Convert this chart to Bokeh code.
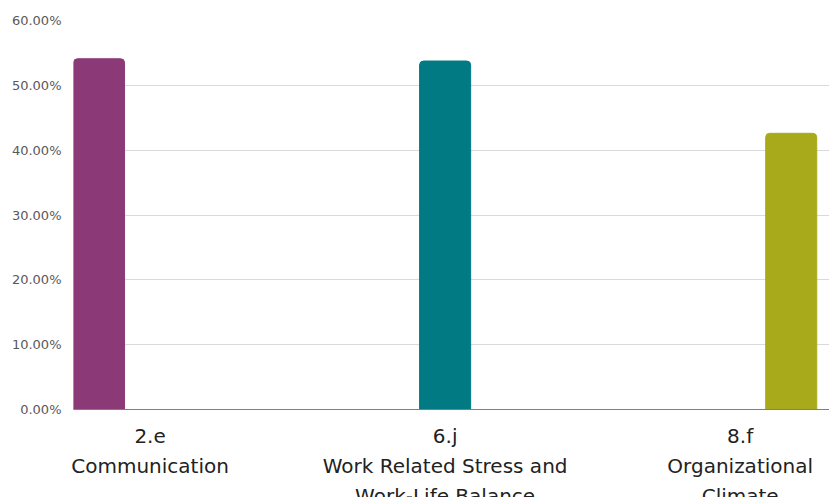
from bokeh.plotting import figure
from bokeh.models import ColumnDataSource, FixedTicker, NumeralTickFormatter, Range1d
from bokeh.embed import file_html
from bokeh.resources import INLINE

# Survey items and the share of responses for each
codes = ["2.e", "6.j", "8.f"]
names = ["Communication", "Work Related Stress and\nWork-Life Balance", "Organizational\nClimate"]
shares = [0.541, 0.5375, 0.426]
colors = ["#8B3A77", "#017A84", "#A9AA1B"]
y_ticks = [0.0, 0.1, 0.2, 0.3, 0.4, 0.5, 0.6]

FONT = "DejaVu Sans"

# Each item sits in its own series slot within a group of three
SLOTS = 3
GROUP_GAP = 2.78
step = SLOTS + GROUP_GAP
x_bar = [i * step + i + 0.5 for i in range(len(codes))]
x_center = [i * step + SLOTS / 2 for i in range(len(codes))]

src = ColumnDataSource(dict(x=x_bar, top=shares, color=colors))

# The canvas runs a little past the window bottom so the last line of the
# longer category names is cut at the page edge.
p = figure(width=829, height=519, output_backend="svg", toolbar_location=None,
           x_range=Range1d(0, 3 * step - GROUP_GAP + 0.25), y_range=Range1d(0, 0.6),
           min_border_left=73, min_border_right=0, min_border_top=20, min_border_bottom=110)
p.outline_line_color = None
p.background_fill_color = "white"
p.border_fill_color = "white"

p.vbar(x="x", top="top", width=1.0, bottom=0, color="color", source=src,
       border_radius=(4, 4, 0, 0))

p.xgrid.visible = False
p.ygrid.ticker = FixedTicker(ticks=y_ticks)
p.ygrid.grid_line_color = "#D9D9D9"
p.ygrid.grid_line_width = 1

ya = p.yaxis[0]
ya.ticker = FixedTicker(ticks=y_ticks)
ya.formatter = NumeralTickFormatter(format="0.00%")
ya.axis_line_color = None
ya.major_tick_line_color = None
ya.minor_tick_line_color = None
ya.major_label_text_font = FONT
ya.major_label_text_font_size = "13px"
ya.major_label_text_color = "#595959"
ya.major_label_standoff = 6

xa = p.xaxis[0]
xa.ticker = FixedTicker(ticks=x_center)
xa.major_label_overrides = {x: f"{c}\n{n}" for x, c, n in zip(x_center, codes, names)}
xa.axis_line_color = "#7F7F7F"
xa.axis_line_width = 1
xa.major_tick_line_color = None
xa.minor_tick_line_color = None
xa.major_label_text_font = FONT
xa.major_label_text_font_size = "20px"
xa.major_label_text_color = "#222222"
xa.major_label_text_line_height = 1.25
xa.major_label_standoff = 8

open("out.html", "w").write(file_html(p, INLINE))
